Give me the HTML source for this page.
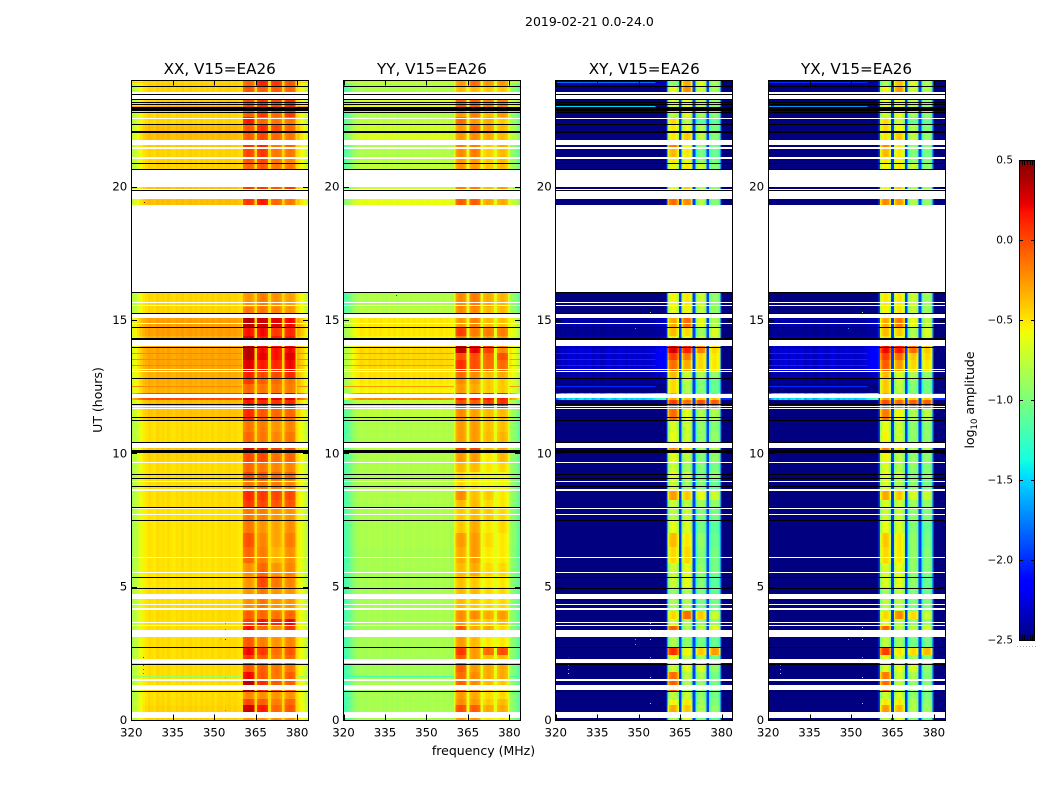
<!DOCTYPE html>
<html lang="en">
<head>
<meta charset="utf-8">
<title>2019-02-21 0.0-24.0</title>
<style>
html,body{margin:0;padding:0;background:#fff;width:1050px;height:800px;overflow:hidden}
svg{display:block;font-family:"DejaVu Sans","Liberation Sans",sans-serif;fill:#000}
</style>
</head>
<body>
<svg id="chart" width="1050" height="800" viewBox="0 0 1050 800" xmlns="http://www.w3.org/2000/svg">
<rect x="0" y="0" width="1050" height="800" fill="#fff"/>
<text x="525" y="26" font-size="12.5">2019-02-21 0.0-24.0</text>
<text x="483.5" y="755" font-size="12.5" text-anchor="middle">frequency (MHz)</text>
<text transform="translate(102,400) rotate(-90)" font-size="12.5" text-anchor="middle">UT (hours)</text>
<text transform="translate(974,400) rotate(-90)" font-size="12.5" text-anchor="middle">log<tspan font-size="8.5" dy="3">10</tspan><tspan dy="-3"> amplitude</tspan></text>
</svg>
<script>
const panelTitles = ["XX, V15=EA26", "YY, V15=EA26", "XY, V15=EA26", "YX, V15=EA26"];
const xTicks = [320, 335, 350, 365, 380];
const yTicks = [0, 5, 10, 15, 20];
const cbarTicks = [0.5, 0.0, -0.5, -1.0, -1.5, -2.0, -2.5];
const freqMin = 320;
const freqMax = 384;
const hourMin = 0;
const hourMax = 24;
const valueMin = -2.5;
const valueMax = 0.5;

// Start hour of each time row; each row ends where the next one begins.
const rowHours = [0,.3,.55,.8,1.06,1.5,1.8,2.1,2.45,2.75,3.38,3.55,3.8,4.1,4.5,5,5.4,5.9,6.5,7,7.5,7.95,8.25,8.6,9,9.3,9.65,10,10.4,10.8,11.25,11.7,12,12.25,12.6,12.8,13.1,13.5,13.75,14.25,14.4,14.7,15.1,15.5,16.04,19.32,19.54,19.86,20.61,20.9,21.1,21.5,21.75,22.05,22.35,22.6,22.85,23.25,23.5,23.75];

// Each row: [background, sub-band 1, sub-band 2, sub-band 3, sub-band 4] in log10 amplitude.
const xxLevels = [
[-.55,-.3,-.3,-.3,-.3],[-.55,.25,.1,-.15,-.1],[-.57,-.05,-.12,-.22,-.15],[-.58,-.25,-.28,-.3,-.3],
[-.58,.3,.05,-.1,-.12],[-.58,.15,-.1,-.2,-.12],[-.58,-.1,-.12,-.2,-.2],[-.58,0,-.12,-.22,-.15],
[-.58,.15,0,-.18,-.1],[-.58,-.1,-.22,-.3,-.25],[-.58,.12,-.15,-.28,0],[-.58,-.02,.12,.05,.15],
[-.58,-.12,-.15,-.2,-.15],[-.58,-.28,-.2,-.3,-.3],[-.58,-.3,-.2,-.3,-.3],[-.6,-.3,-.05,-.2,-.25],
[-.6,-.28,-.15,-.3,-.25],[-.6,-.15,-.22,-.4,-.28],[-.6,-.08,-.25,-.35,-.22],[-.6,-.2,-.3,-.35,-.28],
[-.6,-.2,-.22,-.3,-.3],[-.58,0,-.05,-.1,-.1],[-.58,.05,0,-.05,-.05],[-.58,-.2,-.2,-.22,-.25],
[-.58,-.05,-.1,-.15,-.15],[-.58,-.15,-.2,-.25,-.25],[-.55,-.05,-.05,-.18,-.15],[-.5,.2,.12,0,-.05],
[-.58,-.15,-.2,-.25,-.2],[-.58,-.2,-.22,-.3,-.25],[-.5,.05,-.1,-.15,-.15],[-.48,.1,.05,.02,.05],
[-.1,.25,.2,.2,.2],[-.44,-.15,-.2,-.2,-.22],[-.42,0,-.12,-.15,-.2],[-.43,.08,-.05,-.05,.05],
[-.4,.2,.1,.05,.15],[-.4,.3,.18,.12,.2],[-.4,.3,.15,.12,.15],[-.43,.2,.1,.1,.1],
[-.38,.12,.15,0,.05],[-.38,.3,.25,.2,.15],[-.56,-.2,-.2,-.25,-.3],[-.56,-.3,-.22,-.28,-.33],
[-.6,-.3,-.3,-.3,-.3],[-.48,0,.1,-.15,-.2],[-.48,0,.1,-.15,-.2],[-.5,0,0,-.1,0],
[-.55,-.15,-.1,-.2,-.2],[-.55,-.1,-.05,-.2,-.25],[-.55,-.05,0,-.2,-.2],[-.52,.02,.05,-.2,-.15],
[-.48,-.12,-.05,-.15,-.2],[-.48,-.1,.05,-.05,-.15],[-.56,.1,-.15,-.2,-.2],[-.56,-.12,0,-.15,0],
[-.54,-.05,.02,-.05,.05],[-.54,-.05,.02,.02,0],[-.56,-.1,-.12,-.12,-.15],[-.54,-.15,.08,0,-.1]
];
const yyLevels = [
[-.88,-.3,-.3,-.55,-.55],[-.88,-.05,-.1,-.35,-.35],[-.88,-.25,-.3,-.45,-.4],[-.88,-.3,-.35,-.5,-.5],
[-.88,-.12,-.25,-.4,-.45],[-.9,-.15,-.25,-.35,-.35],[-.9,-.1,-.3,-.35,-.35],[-.9,-.1,-.3,-.4,-.4],
[-.88,.02,-.3,-.15,-.05],[-.88,-.3,-.4,-.55,-.55],[-.9,-.1,-.35,-.35,-.5],[-.88,-.3,-.4,-.45,-.4],
[-.88,-.25,-.25,-.35,-.3],[-.88,-.4,-.45,-.5,-.5],[-.88,-.4,-.4,-.5,-.5],[-.88,-.42,-.45,-.55,-.55],
[-.88,-.4,-.35,-.5,-.5],[-.88,-.35,-.3,-.55,-.55],[-.86,-.3,-.3,-.5,-.55],[-.86,-.45,-.35,-.55,-.5],
[-.86,-.45,-.4,-.45,-.5],[-.86,-.4,-.4,-.5,-.55],[-.85,-.25,-.42,-.45,-.55],[-.85,-.5,-.55,-.6,-.6],
[-.85,-.5,-.55,-.6,-.6],[-.85,-.4,-.4,-.55,-.5],[-.85,-.3,-.3,-.55,-.4],[-.8,0,0,-.4,-.3],
[-.85,-.3,-.3,-.4,-.38],[-.85,-.3,-.3,-.42,-.42],[-.8,-.25,-.32,-.4,-.4],[-.78,-.05,-.1,0,.05],
[-.25,.1,.1,.1,.1],[-.58,-.3,-.35,-.45,-.45],[-.55,-.25,-.3,-.45,-.45],[-.52,-.15,-.25,-.4,-.35],
[-.5,.05,-.05,-.15,-.15],[-.5,-.05,-.05,-.12,-.05],[-.5,.3,.2,0,-.25],[-.6,-.2,-.3,-.3,-.3],
[-.55,0,-.2,-.2,-.2],[-.55,-.3,-.22,-.4,-.42],[-.82,-.25,-.25,-.4,-.4],[-.85,-.25,-.2,-.35,-.38],
[-.85,-.3,-.3,-.4,-.4],[-.65,-.1,-.1,-.35,-.35],[-.65,-.1,-.1,-.35,-.35],[-.75,-.2,-.2,-.4,-.3],
[-.8,-.3,-.3,-.45,-.4],[-.82,-.3,-.3,-.45,-.4],[-.85,-.25,-.2,-.45,-.4],[-.85,-.2,-.2,-.45,-.35],
[-.7,-.3,-.25,-.35,-.4],[-.75,-.3,-.15,-.3,-.4],[-.8,-.15,-.3,-.35,-.45],[-.85,-.3,-.2,-.4,-.3],
[-.7,-.1,-.1,-.2,-.2],[-.82,-.15,-.15,-.25,-.35],[-.85,-.4,-.4,-.45,-.45],[-.85,-.3,-.15,-.3,-.3]
];
const xyLevels = [
[-2.45,-.9,-.7,-1.1,-1.2],[-2.4,-.4,-.5,-.9,-1],[-2.35,-.65,-.6,-.95,-1.05],[-2.3,-.85,-.8,-1,-1.1],
[-2.4,-.15,-.9,-1,-1.1],[-2.45,-.2,-.85,-.9,-1.1],[-2.45,-.8,-.7,-.75,-1],[-2.45,-.7,-.85,-.95,-1.1],
[-2.45,0,-.65,-.5,-.35],[-2.45,-.9,-1,-1.1,-1.15],[-2.45,-.15,-.9,-.85,-.7],[-2.4,-.75,-.9,-1,-1],
[-2.4,-.55,-.2,-.5,-.8],[-2.4,-.9,-.9,-1.1,-1.1],[-2.45,-1,-.9,-1.1,-1.2],[-2.45,-.8,-.7,-1.05,-1.2],
[-2.5,-.8,-.7,-1,-1.1],[-2.5,-.55,-.55,-1.05,-1.1],[-2.5,-.45,-.6,-1,-1.15],[-2.5,-.7,-.75,-1.1,-1.2],
[-2.5,-.85,-.8,-1.05,-1.1],[-2.5,-.8,-.85,-.95,-1],[-2.5,-.35,-.5,-.7,-.8],[-2.5,-.8,-.95,-1.05,-1.15],
[-2.5,-.7,-.8,-1.1,-1],[-2.5,-.8,-.95,-1.05,-1.1],[-2.5,-.7,-.85,-1.05,-1],[-2.5,-.3,-.55,-.95,-.9],
[-2.5,-.7,-.8,-1,-1],[-2.5,-.75,-.8,-1,-1.05],[-2.45,-.2,-.7,-.9,-.9],[-2.4,-.05,-.2,-.1,-.15],
[-1.3,-.4,-.5,-.5,-.5],[-2.3,-.55,-.9,-1.05,-1.15],[-2.25,-.55,-.85,-1.05,-1.15],[-2.2,-.45,-.8,-.9,-1],
[-2.1,-.2,-.4,-.55,-.6],[-2.1,-.05,-.25,-.55,-.6],[-2.1,.2,.05,-.25,-.55],[-2.2,-.6,-.7,-.85,-.8],
[-2.25,-.45,-.55,-.95,-.75],[-2.2,-.4,-.2,-.7,-.9],[-2.4,-.7,-.65,-.85,-1],[-2.4,-.65,-.6,-.8,-1],
[-2.5,-1,-1,-1,-1],[-2.3,-.2,-.3,-.9,-1.05],[-2.3,-.2,-.3,-.9,-1.05],[-2.4,-.7,-.5,-.9,-1],
[-2.4,-.7,-.6,-.8,-1.05],[-2.4,-.6,-.7,-1,-1.1],[-2.4,-.45,-.6,-1.1,-1.15],[-2.3,-.25,-.65,-1,-1.1],
[-2.4,-.6,-.5,-.85,-1.05],[-2.35,-.6,-.7,-.9,-1.1],[-2.4,-.55,-.85,-1.2,-1.2],[-2.35,-.85,-.7,-.95,-1.05],
[-2.4,-.75,-.7,-.85,-1],[-2.3,-.3,-.3,-.6,-.5],[-2.45,-.7,-.3,-.8,-.95],[-2.2,-1,-.4,-.75,-.95]
];
const yxLevels = [
[-2.45,-.85,-.7,-1.05,-1.15],[-2.4,-.35,-.45,-.9,-.95],[-2.35,-.6,-.6,-.9,-1],[-2.3,-.8,-.75,-1,-1.05],
[-2.4,-.2,-.85,-1,-1.05],[-2.45,-.25,-.8,-.9,-1.05],[-2.45,-.75,-.7,-.75,-1],[-2.45,-.7,-.8,-.95,-1.05],
[-2.45,-.05,-.6,-.55,-.45],[-2.45,-.85,-.95,-1.1,-1.1],[-2.45,-.2,-.85,-.85,-.75],[-2.4,-.7,-.85,-1,-1],
[-2.4,-.55,-.3,-.55,-.8],[-2.4,-.85,-.85,-1.05,-1.05],[-2.45,-.95,-.85,-1.05,-1.15],[-2.45,-.75,-.7,-1,-1.15],
[-2.5,-.75,-.7,-1,-1.05],[-2.5,-.55,-.6,-1,-1.05],[-2.5,-.5,-.6,-1,-1.1],[-2.5,-.7,-.75,-1.05,-1.15],
[-2.5,-.8,-.8,-1,-1.05],[-2.5,-.75,-.8,-.95,-1],[-2.5,-.4,-.5,-.75,-.8],[-2.5,-.75,-.9,-1,-1.1],
[-2.5,-.7,-.8,-1.05,-1],[-2.5,-.75,-.9,-1,-1.05],[-2.5,-.65,-.85,-1,-1],[-2.5,-.25,-.55,-.9,-.9],
[-2.5,-.65,-.8,-1,-1],[-2.5,-.7,-.8,-1,-1],[-2.45,-.25,-.65,-.9,-.85],[-2.4,-.1,-.2,-.15,-.15],
[-1.3,-.4,-.5,-.5,-.5],[-2.3,-.5,-.85,-1.05,-1.1],[-2.25,-.5,-.8,-1,-1.1],[-2.2,-.45,-.75,-.9,-1],
[-2.1,-.15,-.35,-.55,-.6],[-2.1,-.05,-.2,-.5,-.55],[-2.1,.12,.08,-.2,-.5],[-2.2,-.55,-.65,-.85,-.8],
[-2.25,-.45,-.5,-.9,-.75],[-2.2,-.4,-.25,-.7,-.85],[-2.4,-.65,-.6,-.85,-.95],[-2.4,-.6,-.6,-.8,-.95],
[-2.5,-1,-1,-1,-1],[-2.3,-.3,-.35,-.9,-1],[-2.3,-.3,-.35,-.9,-1],[-2.4,-.65,-.5,-.9,-.95],
[-2.4,-.65,-.6,-.8,-1],[-2.4,-.6,-.65,-1,-1.05],[-2.4,-.45,-.6,-1.05,-1.1],[-2.3,-.3,-.6,-1,-1.05],
[-2.4,-.6,-.5,-.85,-1],[-2.35,-.55,-.65,-.9,-1.05],[-2.4,-.55,-.8,-1.15,-1.15],[-2.35,-.8,-.7,-.95,-1],
[-2.4,-.7,-.65,-.85,-1],[-2.3,-.35,-.35,-.6,-.55],[-2.45,-.65,-.35,-.8,-.9],[-2.25,-.95,-.45,-.75,-.9]
];

// Level calibration per panel: background and sub-band shifts for XX, YY, XY, YX.
const backgroundShift = [.1, .03, -.2, -.2];
const subBandShift = [.05, .03, .08, .08];

// Flagged time ranges [from hour, to hour]: no data (white) and zero amplitude (black).
const whiteGaps = [[23.49,23.55],[23.28,23.44],[22.53,22.56],[21.56,21.75],[21.42,21.49],[21.05,21.12],[19.99,20.61],[19.86,19.92],[19.54,19.85],[16.04,19.32],[15.66,15.69],[15.55,15.58],[15.09,15.26],[14.85,14.88],[14.01,14.24],[13.16,13.18],[13.04,13.07],[12.06,12.23],[11.74,11.76],[11.67,11.70],[10.21,10.39],[9.64,9.67],[8.94,8.96],[8.60,8.65],[7.92,7.96],[7.69,7.72],[6.09,6.11],[5.52,5.55],[4.54,4.74],[4.30,4.34],[4.14,4.21],[3.64,3.68],[3.54,3.57],[3.11,3.38],[2.13,2.29],[1.47,1.54],[1.11,1.31],[0.075,0.30]];
const blackGaps = [[23.74,23.77],[23.44,23.47],[23.25,23.28],[23.17,23.19],[23.08,23.11],[22.84,23.0],[22.77,22.8],[22.32,22.35],[22.02,22.09],[20.85,20.87],[20.61,20.66],[19.84,19.87],[16.0,16.04],[15.26,15.28],[14.69,14.72],[14.25,14.31],[13.95,13.98],[12.78,12.81],[11.81,11.84],[11.35,11.38],[11.24,11.26],[10.39,10.41],[10.02,10.13],[9.21,9.24],[9.03,9.06],[8.77,8.79],[7.96,7.99],[7.47,7.5],[5.33,5.36],[4.91,4.94],[2.71,2.74],[2.07,2.1],[1.06,1.09]];

// Short-lived broadband lines: [hour, XX, YY, XY, YX].
const lineEvents = [[23.93,-.45,-.75,-1.8,-2],[23.02,-.3,-.6,-1.5,-1.7],[13.76,-.2,-.25,-2,-2],[13.54,-.2,-.25,-2,-2],[13.3,-.2,-.25,-2,-2],[12.53,-.2,-.25,-2,-2],[1.66,-.9,-1.2,-2.5,-2.5]];

// Channel offsets relative to the row background.
const leftParallel = [-.35,-.28,-.2,-.12,-.05,-.02,.02,0,-.02,.03,0,.02,-.01,.03,0,-.02,.02,0,.03,-.01,.01,.03,0,.02,-.01,.03,0,.02,0,.03,-.01,.02,.03,0,.02,.03,0,.02,0,-.02];
const rightParallel = [-.02,-.05,-.1,-.12,-.15,-.2,-.28,-.35];
const leftCross = [-.3,-.1,.05,-.05,.08,0,.1,-.05,.06,.1,-.02,.05,.1,-.08,0,.06,-.1,-.05,.03,.08,0,-.06,.05,.1,.02,-.05,.06,-.02,.05,0,.04,-.05,0,.05,.02,.1,.18,.25,.3,.35];
const rightCross = [-.5,-.5,-.5,-.5,-.5,-.5,-.5,-.5];
const subParallel = [-.06,-.02,0,.02,.02,0,-.02,-.06];
const subCross = [-.28,-.06,0,.02,.02,0,-.06,-.28];
const gapParallelXX = -.46;
const gapParallelYY = -.62;
const gapCross = -1.95;

// Isolated interference points [MHz, hour, log10 amplitude].
const rfiXX = [[354,3.63,-.1],[354,3.4,0],[354,3.03,.4],[352,3.05,-.2],[354,.37,-.1],[354,1.2,-.1],[354,1.6,-.2],[354,2.1,-.2],[324.4,2.72,.3],[324.4,2.38,.3],[324.4,2.05,.2],[324.4,1.9,.2],[324.4,1.75,.1],[324.5,19.42,.5]];
const rfiYY = [[339,15.95,.4]];
const rfiXY = [[354,3.63,-.5],[354,3.4,-1.5],[354,3.03,-.8],[348.8,3.05,-1.5],[348.8,2.85,-1.5],[354,2.35,-1.5],[354,1.6,-1],[354,1.2,-1],[354,.65,-1],[354,.25,-1.3],[324.4,2.72,.4],[324.4,2.38,.4],[324.4,2.05,.2],[324.4,1.9,-.3],[324.4,1.75,-.5],[354,15.3,-1],[354,15.1,-1.3],[348.8,14.7,-1.6],[348.8,8.95,-1.6]];
const rfiYX = [[354,3.5,-1],[354,3.03,-.8],[348.8,3.05,-1.5],[354,2.35,-1.5],[354,1.6,-1],[354,1.2,-1],[354,.65,-1],[324.4,2.05,.1],[324.4,1.9,-.3],[324.4,1.75,-.5],[354,15.3,-1],[354,15.1,-1.3],[348.8,14.7,-1.6],[348.8,8.95,-1.6]];

const plotTop = 80;
const plotBottom = 720;
const panelWidth = 176.9;
const panelLefts = [131.25, 343.5, 555.8, 768.1];
const cbarLeft = 1019;
const cbarRight = 1035;
const cbarTop = 160;
const cbarBottom = 640;

const svg = document.getElementById('chart');
const NS = 'http://www.w3.org/2000/svg';

function seg(t, pts) {
  for (let i = 1; i < pts.length; i++) {
    if (t <= pts[i][0]) {
      const a = pts[i - 1], b = pts[i];
      return a[1] + (b[1] - a[1]) * (t - a[0]) / (b[0] - a[0]);
    }
  }
  return pts[pts.length - 1][1];
}
function jet(v) {
  const t = Math.max(0, Math.min(1, (v - valueMin) / (valueMax - valueMin)));
  const r = seg(t, [[0,0],[.35,0],[.66,1],[.89,1],[1,.5]]);
  const g = seg(t, [[0,0],[.125,0],[.375,1],[.64,1],[.91,0],[1,0]]);
  const b = seg(t, [[0,.5],[.11,1],[.34,1],[.65,0],[1,0]]);
  return 'rgb(' + Math.round(r * 255) + ',' + Math.round(g * 255) + ',' + Math.round(b * 255) + ')';
}
function yScale(h) {
  return plotBottom - (h - hourMin) / (hourMax - hourMin) * (plotBottom - plotTop);
}
function xScale(left, f) {
  return left + (f - freqMin) / (freqMax - freqMin) * panelWidth;
}
function cbarScale(v) {
  return cbarBottom - (v - valueMin) / (valueMax - valueMin) * (cbarBottom - cbarTop);
}
function channelList() {
  const out = [];
  for (let f = freqMin; f < 360; f += 1) out.push([f, f + 1]);
  for (let f = 360; f < freqMax; f += 0.5) out.push([f, f + 0.5]);
  return out;
}
function cellValue(row, f, cross, gapLevel, bgShift, subShift) {
  const bg = row[0] + bgShift;
  const activity = Math.max(0, Math.min(1, (bg - valueMin) / 0.4));
  if (f < 360) {
    const i = f - freqMin;
    return cross ? bg + leftCross[i] * activity : bg + leftParallel[i];
  }
  if (f >= 380) {
    const i = Math.round((f - 380) * 2);
    return cross ? bg + rightCross[i] : bg + rightParallel[i];
  }
  const k = Math.floor((f - 360) / 5);
  const pos = Math.round((f - 360 - 5 * k) * 2);
  if (pos === 0 || pos === 9) return gapLevel;
  return row[k + 1] + subShift + (cross ? subCross : subParallel)[pos - 1];
}
function mk(tag, parent) {
  const el = document.createElementNS(NS, tag);
  parent.appendChild(el);
  return el;
}
function rect(el, x, y, w, h, fill) {
  el.setAttribute('x', x);
  el.setAttribute('y', y);
  el.setAttribute('width', w);
  el.setAttribute('height', h);
  el.setAttribute('fill', fill);
  el.setAttribute('shape-rendering', 'crispEdges');
}
function bandRect(el, left, h0, h1, fill) {
  const yTop = Math.round(yScale(h1));
  const yBot = Math.max(yTop + 1, Math.round(yScale(h0)));
  rect(el, Math.floor(left) + 1, yTop, Math.floor(left + panelWidth) - Math.floor(left) - 1, yBot - yTop, fill);
}

const panelLevels = [xxLevels, yyLevels, xyLevels, yxLevels];
const panelRfi = [rfiXX, rfiYY, rfiXY, rfiYX];
const panelCross = [false, false, true, true];
const panelGap = [gapParallelXX, gapParallelYY, gapCross, gapCross];
const channels = channelList();

panelTitles.forEach(function (title, p) {
  const left = panelLefts[p];
  const frameL = Math.floor(left) + 0.5;
  const frameR = Math.floor(left + panelWidth) + 0.5;
  const group = mk('g', svg);
  
  

  const cells = mk('g', group);
  
  
  panelLevels[p].forEach(function (row, r) {
    const y0 = Math.round(yScale(r + 1 < rowHours.length ? rowHours[r + 1] : hourMax));
    const y1 = Math.round(yScale(rowHours[r]));
    channels.forEach(function (ch) {
      const x0 = xScale(left, ch[0]);
      const x1 = xScale(left, ch[1]);
      const cell = mk('rect', cells);
      
      
      rect(cell, x0, y0, x1 - x0 + 0.3, y1 - y0, jet(cellValue(row, ch[0], panelCross[p], panelGap[p], backgroundShift[p], subBandShift[p])));
    });
  });

  lineEvents.forEach(function (ev) {
    const spans = panelCross[p] ? [[320, 356]] : [[320, 360], [380, 384]];
    spans.forEach(function (sp) {
      const line = mk('rect', group);
      
      
      const xa = xScale(left, sp[0]);
      const xb = xScale(left, sp[1]);
      rect(line, xa, Math.round(yScale(ev[0])), xb - xa, 1, jet(ev[p + 1]));
    });
  });

  panelRfi[p].forEach(function (pt) {
    const dot = mk('rect', group);
    
    
    rect(dot, Math.round(xScale(left, pt[0])), Math.round(yScale(pt[1])), 1, 1, jet(pt[2]));
  });

  whiteGaps.forEach(function (g) {
    const gap = mk('rect', group);
    
    
    bandRect(gap, left, g[0], g[1], '#fff');
  });
  blackGaps.forEach(function (g) {
    const gap = mk('rect', group);
    
    
    bandRect(gap, left, g[0], g[1], '#000');
  });

  const frame = mk('rect', group);
  
  
  frame.setAttribute('x', frameL);
  frame.setAttribute('y', plotTop + 0.5);
  frame.setAttribute('width', frameR - frameL);
  frame.setAttribute('height', plotBottom - plotTop);
  frame.setAttribute('fill', 'none');
  frame.setAttribute('stroke', '#000');
  frame.setAttribute('stroke-width', '1');
  frame.setAttribute('shape-rendering', 'crispEdges');

  const heading = mk('text', group);
  
  
  heading.setAttribute('x', left + panelWidth / 2);
  heading.setAttribute('y', 74);
  heading.setAttribute('font-size', '15.2');
  heading.setAttribute('text-anchor', 'middle');
  heading.textContent = title;

  xTicks.forEach(function (t) {
    const x = Math.round(xScale(left, t)) + 0.5;
    [[plotBottom, plotBottom - 5.5], [plotTop, plotTop + 5.5]].forEach(function (pair) {
      const tick = mk('line', group);
      
      
      tick.setAttribute('x1', x);
      tick.setAttribute('x2', x);
      tick.setAttribute('y1', pair[0]);
      tick.setAttribute('y2', pair[1]);
      tick.setAttribute('stroke', '#000');
      tick.setAttribute('shape-rendering', 'crispEdges');
    });
    const label = mk('text', group);
    
    
    label.setAttribute('x', xScale(left, t));
    label.setAttribute('y', 736.5);
    label.setAttribute('font-size', '11.8');
    label.setAttribute('text-anchor', 'middle');
    label.textContent = t;
  });
  yTicks.forEach(function (t) {
    const y = Math.round(yScale(t)) + 0.5;
    [[frameL, frameL + 5.5], [frameR, frameR - 5.5]].forEach(function (pair) {
      const tick = mk('line', group);
      
      
      tick.setAttribute('x1', pair[0]);
      tick.setAttribute('x2', pair[1]);
      tick.setAttribute('y1', y);
      tick.setAttribute('y2', y);
      tick.setAttribute('stroke', '#000');
      tick.setAttribute('shape-rendering', 'crispEdges');
    });
    const label = mk('text', group);
    
    
    label.setAttribute('x', left - 4);
    label.setAttribute('y', yScale(t) + 4);
    label.setAttribute('font-size', '11.8');
    label.setAttribute('text-anchor', 'end');
    label.textContent = t;
  });
});

const cbar = mk('g', svg);


for (let i = 0; i < 160; i++) {
  const v0 = valueMin + (valueMax - valueMin) * i / 160;
  const v1 = valueMin + (valueMax - valueMin) * (i + 1) / 160;
  const swatch = mk('rect', cbar);
  
  
  rect(swatch, cbarLeft, cbarScale(v1), cbarRight - cbarLeft, cbarScale(v0) - cbarScale(v1) + 0.3, jet((v0 + v1) / 2));
}
const cbarFrame = mk('rect', cbar);


cbarFrame.setAttribute('x', cbarLeft + 0.5);
cbarFrame.setAttribute('y', cbarTop + 0.5);
cbarFrame.setAttribute('width', cbarRight - cbarLeft - 1);
cbarFrame.setAttribute('height', cbarBottom - cbarTop);
cbarFrame.setAttribute('fill', 'none');
cbarFrame.setAttribute('stroke', '#000');
cbarFrame.setAttribute('shape-rendering', 'crispEdges');
cbarTicks.forEach(function (t) {
  const y = cbarScale(t);
  [[cbarLeft, cbarLeft + 4], [cbarRight, cbarRight - 4]].forEach(function (pair) {
    const tick = mk('line', cbar);
    
    
    tick.setAttribute('x1', pair[0]);
    tick.setAttribute('x2', pair[1]);
    tick.setAttribute('y1', Math.round(y) + 0.5);
    tick.setAttribute('y2', Math.round(y) + 0.5);
    tick.setAttribute('stroke', '#000');
    tick.setAttribute('shape-rendering', 'crispEdges');
  });
  const label = mk('text', cbar);
  
  
  label.setAttribute('x', cbarLeft - 6);
  label.setAttribute('y', y + 3.5);
  label.setAttribute('font-size', '10.5');
  label.setAttribute('text-anchor', 'end');
  label.textContent = t.toFixed(1).replace('-', '\u2212');
});
for (let i = 1; i < 6; i++) {
  const x = Math.round(cbarLeft + (cbarRight - cbarLeft) * i / 6) + 0.5;
  [[cbarTop, cbarTop + 5], [cbarBottom, cbarBottom - 5]].forEach(function (pair) {
    const tick = mk('line', cbar);
    
    
    tick.setAttribute('x1', x);
    tick.setAttribute('x2', x);
    tick.setAttribute('y1', pair[0]);
    tick.setAttribute('y2', pair[1]);
    tick.setAttribute('stroke', '#000');
    tick.setAttribute('shape-rendering', 'crispEdges');
  });
}
for (let i = 0; i < 7; i++) {
  const dot = mk('rect', cbar);
  
  
  rect(dot, cbarLeft - 2 + i * 3, 646, 1, 1, '#aaa');
}
</script>
</body>
</html>
